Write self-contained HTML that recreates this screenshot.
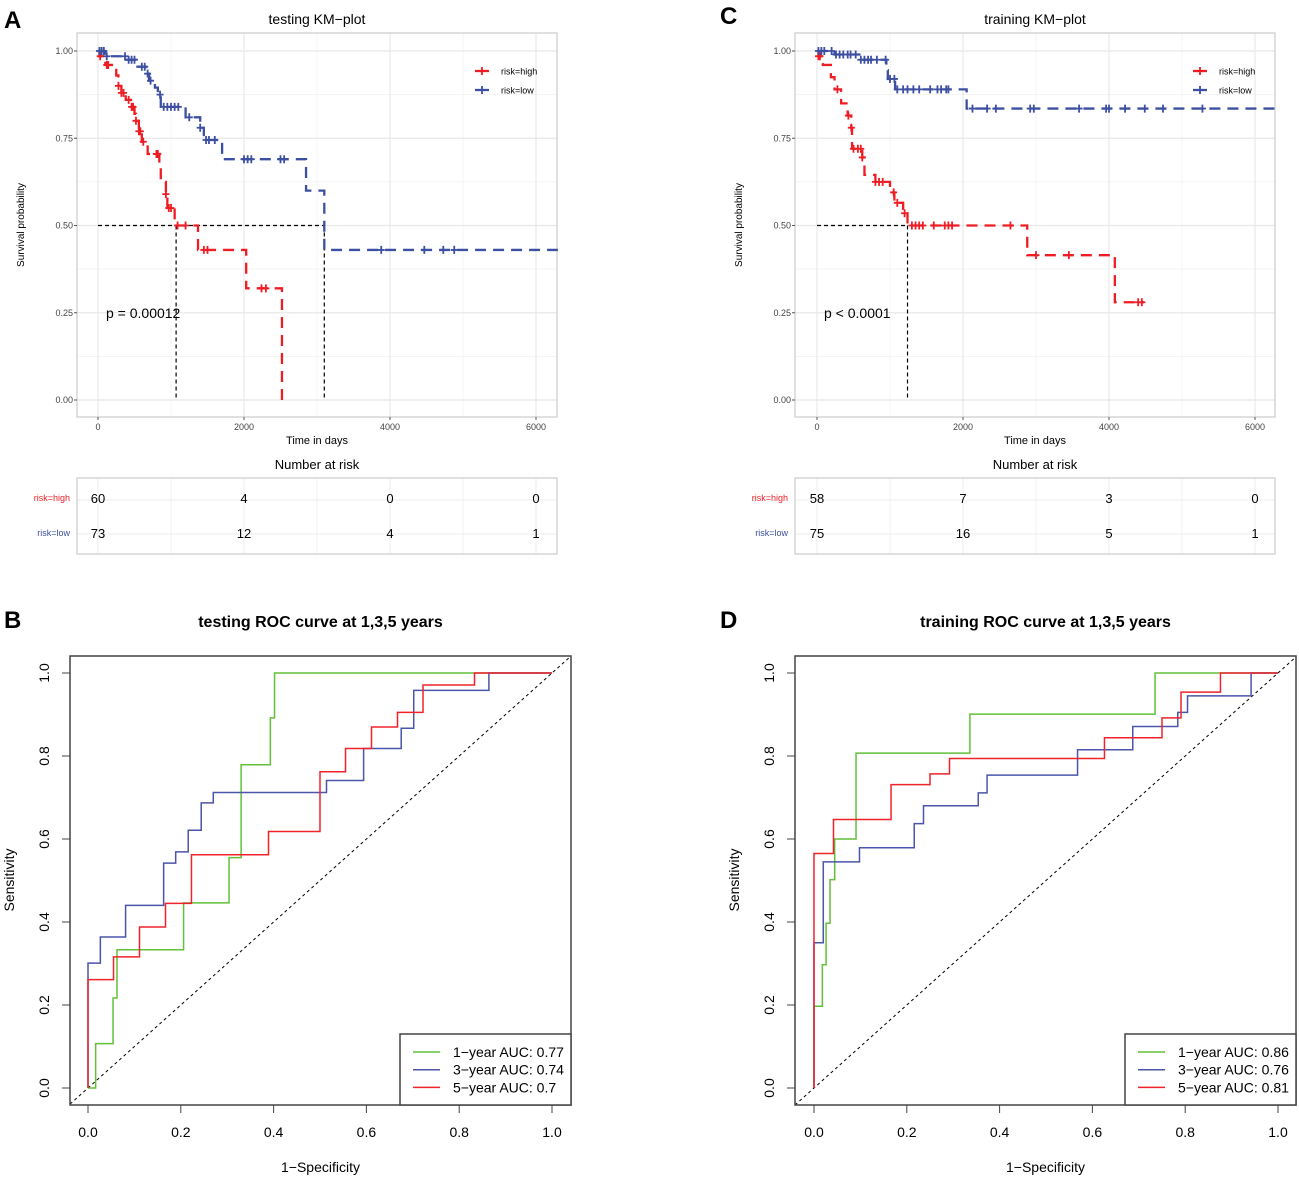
<!DOCTYPE html>
<html><head><meta charset="utf-8"><style>
body{margin:0;background:#fff;}
svg{display:block;font-family:"Liberation Sans",Arial,sans-serif;}
</style></head><body>
<svg id="fig" width="1299" height="1178" viewBox="0 0 1299 1178" xmlns="http://www.w3.org/2000/svg">
<g font-weight="bold" font-size="24" fill="#000">
<text x="4" y="28">A</text>
<text x="4" y="628">B</text>
<text x="720" y="24">C</text>
<text x="720" y="628">D</text>
</g>
</svg>
<script>
// ---------- KM data ----------
const kmA_highT=[20,100,250,280,320,380,450,500,520,560,600,680,840,860,930,950,1050,1370,2030,2520];
const kmA_highS=[0.985,0.96,0.93,0.90,0.88,0.86,0.84,0.82,0.80,0.77,0.74,0.705,0.67,0.625,0.59,0.55,0.50,0.43,0.32,0.0];
const kmA_lowT=[100,380,520,650,700,780,820,860,1200,1400,1450,1700,2850,3100];
const kmA_lowS=[0.985,0.975,0.955,0.935,0.915,0.895,0.875,0.84,0.81,0.78,0.745,0.69,0.60,0.43];
const kmA_highC=[30,120,140,280,320,350,420,460,480,520,560,580,620,800,820,930,970,1000,1090,1200,1450,1500,2240,2300];
const kmA_lowC=[20,50,80,120,370,420,460,500,600,640,680,720,850,900,950,1000,1050,1100,1250,1400,1480,1520,1600,2000,2050,2100,2500,2550,3880,4470,4730,4880];
const kmC_highT=[20,80,190,240,330,420,470,480,620,650,800,1000,1060,1180,1240,2880,4080];
const kmC_highS=[0.985,0.96,0.925,0.89,0.85,0.815,0.78,0.72,0.695,0.645,0.625,0.595,0.565,0.535,0.50,0.415,0.28];
const kmC_lowT=[240,580,950,970,1070,2050];
const kmC_lowS=[0.99,0.975,0.945,0.92,0.89,0.835];
const kmC_highC=[20,40,280,430,470,500,560,600,620,800,850,900,1050,1100,1200,1300,1350,1400,1450,1600,1750,1800,1850,2650,3000,3450,4400,4450];
const kmC_lowC=[20,60,100,200,260,310,360,420,460,530,600,650,700,740,820,940,1000,1060,1100,1180,1240,1320,1400,1550,1650,1700,1770,1800,2130,2330,2450,2920,2970,3590,3960,4000,4220,4490,4740,5280];
const kmA_end=[2520,6300];
const kmC_end=[4480,6300];
const riskA_high=[60,4,0,0], riskA_low=[73,12,4,1];
const riskC_high=[58,7,3,0], riskC_low=[75,16,5,1];
const xTicks=[0,2000,4000,6000];
const yTicks=[0,0.25,0.5,0.75,1.0];
const yTickLabels=["0.00","0.25","0.50","0.75","1.00"];
const medA=[1070,3100], medC=[1240];
// ---------- ROC data ----------
const rocB_g_fpr=[0.0165,0.054,0.0625,0.206,0.304,0.330,0.393,0.402];
const rocB_g_tpr=[0.107,0.217,0.333,0.446,0.555,0.779,0.892,1.0];
const rocB_b_fpr=[0,0.0266,0.081,0.163,0.189,0.216,0.244,0.270,0.514,0.594,0.675,0.702,0.864];
const rocB_b_tpr=[0.301,0.364,0.440,0.542,0.569,0.621,0.687,0.712,0.741,0.818,0.867,0.958,1.0];
const rocB_r_fpr=[0,0.055,0.111,0.167,0.223,0.389,0.500,0.555,0.611,0.667,0.722,0.833];
const rocB_r_tpr=[0.261,0.316,0.388,0.445,0.562,0.618,0.762,0.818,0.870,0.905,0.971,1.0];
const rocD_g_fpr=[0,0.018,0.026,0.0345,0.0446,0.0906,0.336,0.735];
const rocD_g_tpr=[0.197,0.297,0.397,0.502,0.600,0.807,0.901,1.0];
const rocD_b_fpr=[0,0.020,0.098,0.216,0.236,0.354,0.373,0.568,0.687,0.784,0.805,0.942];
const rocD_b_tpr=[0.350,0.545,0.579,0.637,0.680,0.711,0.754,0.815,0.871,0.905,0.945,1.0];
const rocD_r_fpr=[0,0.042,0.166,0.250,0.292,0.626,0.750,0.791,0.876];
const rocD_r_tpr=[0.565,0.647,0.731,0.757,0.794,0.844,0.892,0.954,1.0];
const rocTicks=[0,0.2,0.4,0.6,0.8,1.0];
const rocTickLabels=["0.0","0.2","0.4","0.6","0.8","1.0"];
const aucB=["1\u2212year AUC: 0.77","3\u2212year AUC: 0.74","5\u2212year AUC: 0.7"];
const aucD=["1\u2212year AUC: 0.86","3\u2212year AUC: 0.76","5\u2212year AUC: 0.81"];

const NS="http://www.w3.org/2000/svg";
const svg=document.getElementById('fig');
function el(tag,attrs,parent,txt){const e=document.createElementNS(NS,tag);for(const k in attrs)e.setAttribute(k,attrs[k]);if(txt!==undefined)e.textContent=txt;(parent||svg).appendChild(e);return e;}
const RED="#EE1D24",BLUE="#3D4FA1";

function stepVal(T,S,t){let v=1;for(let i=0;i<T.length;i++){if(T[i]<=t)v=S[i];}return v;}

function kmPanel(o){
  const L=o.left,R=o.left+480,Tp=33,B=417;
  const sx=t=>o.x0+t*(146/2000), sy=v=>400-v*349;
  const g=el('g',{});
  
  
  const t=el('text',{x:(L+R)/2,y:24,'text-anchor':'middle','font-size':14},g,o.title);
  
  // grid
  for(let d=1000;d<=5000;d+=2000)el('line',{x1:sx(d),x2:sx(d),y1:Tp,y2:B,stroke:'#f0f0f0','stroke-width':0.7},g);
  for(let v=0.125;v<1;v+=0.25)el('line',{x1:L,x2:R,y1:sy(v),y2:sy(v),stroke:'#f0f0f0','stroke-width':0.7},g);
  xTicks.forEach(d=>el('line',{x1:sx(d),x2:sx(d),y1:Tp,y2:B,stroke:'#e8e8e8','stroke-width':1.2},g));
  yTicks.forEach(v=>el('line',{x1:L,x2:R,y1:sy(v),y2:sy(v),stroke:'#e8e8e8','stroke-width':1.2},g));
  const fr=el('rect',{x:L,y:Tp,width:480,height:B-Tp,fill:'none',stroke:'#cccccc','stroke-width':1.2},g);
  
  yTicks.forEach((v,i)=>{el('line',{x1:L-3,x2:L,y1:sy(v),y2:sy(v),stroke:'#555'},g);
    const tl=el('text',{x:L-4,y:sy(v)+3,'text-anchor':'end','font-size':9,fill:'#444'},g,yTickLabels[i]);
    });
  xTicks.forEach(d=>{el('line',{x1:sx(d),x2:sx(d),y1:B,y2:B+3,stroke:'#555'},g);
    const tl=el('text',{x:sx(d),y:430,'text-anchor':'middle','font-size':9,fill:'#444'},g,String(d));
    });
  const yt=el('text',{x:0,y:0,'text-anchor':'middle','font-size':10,transform:`translate(${L-53},225) rotate(-90)`},g,'Survival probability');
  
  const xt=el('text',{x:(L+R)/2,y:444,'text-anchor':'middle','font-size':11},g,'Time in days');
  
  // median lines
  const mx=o.med;
  const hl=el('line',{x1:sx(0),x2:sx(mx[mx.length-1]),y1:sy(0.5),y2:sy(0.5),stroke:'#000','stroke-width':1.2,'stroke-dasharray':'4 3'},g);
  
  mx.forEach(m=>{const vl=el('line',{x1:sx(m),x2:sx(m),y1:sy(0.5),y2:sy(0),stroke:'#000','stroke-width':1.2,'stroke-dasharray':'4 3'},g);
    });
  // curves
  o.series.forEach(s=>{
    let d=`M${sx(0)},${sy(1)}`;
    for(let i=0;i<s.T.length;i++){d+=`H${sx(s.T[i])}V${sy(s.S[i])}`;}
    d+=`H${sx(s.end)}`;
    const p=el('path',{d:d,fill:'none',stroke:s.c,'stroke-width':2.3,'stroke-dasharray':'11 7'},g);
    
    s.C.forEach(c=>{const x=sx(c),y=sy(stepVal(s.T,s.S,c));
      const m=el('path',{d:`M${x-3.5},${y}H${x+3.5}M${x},${y-4}V${y+4}`,stroke:s.c,'stroke-width':1.8},g);
      });
  });
  const pv=el('text',{x:L+29,y:318,'font-size':14},g,o.p);
  
  // legend
  [['risk=high',RED,71],['risk=low',BLUE,90]].forEach(([lab,c,y])=>{
    const lg=el('g',{},g);
    el('line',{x1:L+398,x2:L+412,y1:y,y2:y,stroke:c,'stroke-width':2.3},lg);
    el('path',{d:`M${L+405},${y-4}V${y+4}`,stroke:c,'stroke-width':1.8},lg);
    el('text',{x:L+424,y:y+3.5,'font-size':9},lg,lab);
  });
  // risk table
  const nt=el('text',{x:(L+R)/2,y:469,'text-anchor':'middle','font-size':13},g,'Number at risk');
  
  for(let d=1000;d<=5000;d+=2000)el('line',{x1:sx(d),x2:sx(d),y1:478,y2:554,stroke:'#f2f2f2'},g);
  xTicks.forEach(d=>el('line',{x1:sx(d),x2:sx(d),y1:478,y2:554,stroke:'#ececec'},g));
  el('line',{x1:L,x2:R,y1:500,y2:500,stroke:'#ececec'},g);el('line',{x1:L,x2:R,y1:534,y2:534,stroke:'#ececec'},g);
  const tb=el('rect',{x:L,y:478,width:480,height:76,fill:'none',stroke:'#cccccc','stroke-width':1.2},g);
  
  [[o.rh,RED,'risk=high',503],[o.rl,BLUE,'risk=low',538]].forEach(([vals,c,lab,y])=>{
    const rl=el('text',{x:L-7,y:y-2,'text-anchor':'end','font-size':9,fill:c},g,lab);
    
    vals.forEach((v,i)=>{const tx=el('text',{x:sx(xTicks[i]),y:y,'text-anchor':'middle','font-size':13},g,String(v));
      });
  });
}
kmPanel({name:'km-plot-testing',left:77,x0:98,title:'testing KM\u2212plot',p:'p = 0.00012',med:medA,rh:riskA_high,rl:riskA_low,
  series:[{n:'risk-high',T:kmA_highT,S:kmA_highS,C:kmA_highC,c:RED,end:kmA_end[0]},{n:'risk-low',T:kmA_lowT,S:kmA_lowS,C:kmA_lowC,c:BLUE,end:kmA_end[1]}]});
kmPanel({name:'km-plot-training',left:795,x0:817,title:'training KM\u2212plot',p:'p < 0.0001',med:medC,rh:riskC_high,rl:riskC_low,
  series:[{n:'risk-high',T:kmC_highT,S:kmC_highS,C:kmC_highC,c:RED,end:kmC_end[0]},{n:'risk-low',T:kmC_lowT,S:kmC_lowS,C:kmC_lowC,c:BLUE,end:kmC_end[1]}]});

function rocPanel(o){
  const L=o.left,R=o.left+501,Tp=656,B=1105;
  const sx=v=>o.x0+v*464, sy=v=>1088-v*415;
  const g=el('g',{});
  const t=el('text',{x:(L+R)/2,y:627,'text-anchor':'middle','font-size':16,'font-weight':'bold'},g,o.title);
  
  const cp='clip'+o.left;const cpe=el('clipPath',{id:cp},g);el('rect',{x:L,y:Tp,width:R-L,height:B-Tp},cpe);
  const vlo=(L-o.x0)/464, vhi=(R-o.x0)/464;
  const dg=el('line',{x1:sx(vlo),y1:sy(vlo),x2:sx(vhi),y2:sy(vhi),stroke:'#000','stroke-width':1,'stroke-dasharray':'3 3','clip-path':`url(#${cp})`},g);
  
  o.series.forEach(s=>{
    let d=`M${sx(0)},${sy(0)}`;
    for(let i=0;i<s.f.length;i++)d+=`H${sx(s.f[i])}V${sy(s.t[i])}`;
    d+=`H${sx(1)}`;
    const p=el('path',{d:d,fill:'none',stroke:s.c,'stroke-width':1.5},g);
    
  });
  const fr=el('rect',{x:L,y:Tp,width:R-L,height:B-Tp,fill:'none',stroke:'#444','stroke-width':1.5},g);
  
  rocTicks.forEach((v,i)=>{
    el('line',{x1:L-8,x2:L,y1:sy(v),y2:sy(v),stroke:'#444'},g);
    const yl=el('text',{x:0,y:0,'text-anchor':'middle','font-size':14,transform:`translate(${L-21},${sy(v)}) rotate(-90)`},g,rocTickLabels[i]);
    
    el('line',{x1:sx(v),x2:sx(v),y1:B,y2:B+8,stroke:'#444'},g);
    const xl=el('text',{x:sx(v),y:1137,'text-anchor':'middle','font-size':14},g,rocTickLabels[i]);
    
  });
  const yt=el('text',{x:0,y:0,'text-anchor':'middle','font-size':14,transform:`translate(${L-56},880) rotate(-90)`},g,'Sensitivity');
  
  const xt=el('text',{x:(L+R)/2,y:1172,'text-anchor':'middle','font-size':14},g,'1\u2212Specificity');
  
  const lgb=el('rect',{x:R-171,y:B-71,width:171,height:71,fill:'#fff',stroke:'#444','stroke-width':1.5},g);
  
  o.series.forEach((s,i)=>{const y=B-53+i*17.7;
    const le=el('g',{},g);
    el('line',{x1:R-158,x2:R-131,y1:y,y2:y,stroke:s.c,'stroke-width':1.5},le);
    el('text',{x:R-118,y:y+5,'font-size':14},le,o.auc[i]);});
}
const GREEN="#62C03A",RB="#4A55AB",RR="#F0232B";
rocPanel({name:'roc-testing',left:70,x0:88,title:'testing ROC curve at 1,3,5 years',auc:aucB,
  series:[{n:'roc-1-year',f:rocB_g_fpr,t:rocB_g_tpr,c:GREEN},{n:'roc-3-year',f:rocB_b_fpr,t:rocB_b_tpr,c:RB},{n:'roc-5-year',f:rocB_r_fpr,t:rocB_r_tpr,c:RR}]});
rocPanel({name:'roc-training',left:795,x0:814,title:'training ROC curve at 1,3,5 years',auc:aucD,
  series:[{n:'roc-1-year',f:rocD_g_fpr,t:rocD_g_tpr,c:GREEN},{n:'roc-3-year',f:rocD_b_fpr,t:rocD_b_tpr,c:RB},{n:'roc-5-year',f:rocD_r_fpr,t:rocD_r_tpr,c:RR}]});
</script>
</body></html>
